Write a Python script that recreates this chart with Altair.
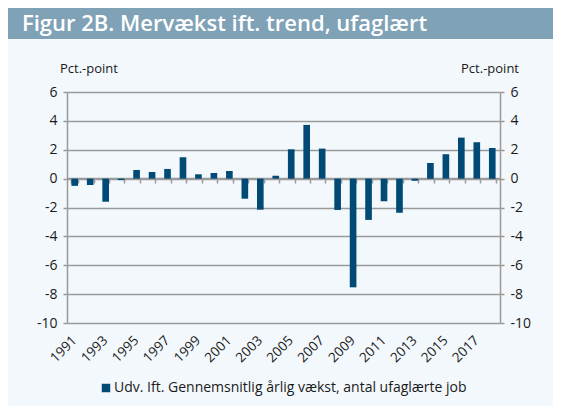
import altair as alt
import pandas as pd

years = list(range(1991, 2019))
values = [-0.5, -0.44, -1.6, -0.1, 0.6, 0.46, 0.67, 1.48, 0.3, 0.39, 0.53, -1.39,
          -2.15, 0.2, 2.03, 3.72, 2.08, -2.17, -7.53, -2.86, -1.57, -2.36, -0.14,
          1.08, 1.69, 2.84, 2.52, 2.12]
label_years = list(range(1991, 2019, 2))
y_ticks = list(range(-10, 7, 2))
series_name = "Udv. Ift. Gennemsnitlig årlig vækst, antal ufaglærte job"
title_text = "Figur 2B. Mervækst ift. trend, ufaglært"
unit_text = "Pct.-point"

df = pd.DataFrame({"year": years, "value": values, "serie": series_name})

FONT = "Open Sans"
GRID = "#9a9a9a"
BAR = "#004a75"
TXT = "#1a1a1a"

xscale = alt.Scale(paddingInner=0.57, paddingOuter=0.285)
yscale = alt.Scale(domain=[-10, 6], nice=False, zero=False)

bars = alt.Chart(df).mark_bar(color=BAR).encode(
    x=alt.X("year:O", scale=xscale,
            axis=alt.Axis(orient="bottom", offset=-145, labels=False, ticks=True,
                          tickBand="extent", tickSize=5, tickWidth=1.5, tickColor=GRID,
                          domain=True, domainColor=GRID, domainWidth=1.5,
                          grid=False, title=None)),
    y=alt.Y("value:Q", scale=yscale,
            axis=alt.Axis(orient="left", values=y_ticks, grid=True, gridColor=GRID,
                          gridWidth=1.5, tickSize=4, tickColor=GRID, tickWidth=1.5,
                          domainColor=GRID, domainWidth=1.5, labelFontSize=14,
                          labelExpr="datum.value + ''",
                          labelColor=TXT, labelPadding=6, title=None)),
    color=alt.Color("serie:N", scale=alt.Scale(range=[BAR]),
                    legend=alt.Legend(orient="none", legendX=32, legendY=289,
                                      title=None, symbolType="square",
                                      symbolSize=72, symbolStrokeWidth=0,
                                      labelFontSize=14, labelColor=TXT, labelFont=FONT,
                                      labelLimit=500, labelOffset=1, padding=0)),
)

ghost = alt.Chart(df).mark_bar(opacity=0).encode(
    x=alt.X("year:O", scale=xscale,
            axis=alt.Axis(orient="bottom", values=label_years, labelAngle=-45,
                          labelAlign="right", labelBaseline="middle", labelPadding=15,
                          labelFontSize=13.5, labelColor=TXT, ticks=False, domain=False,
                          grid=False, title=None)),
    y=alt.Y("value:Q", scale=yscale,
            axis=alt.Axis(orient="right", values=y_ticks, grid=False, tickSize=4,
                          tickColor=GRID, tickWidth=1.5, domainColor=GRID, domainWidth=1.5,
                          labelExpr="datum.value + ''",
                          labelFontSize=14, labelColor=TXT, labelPadding=6, title=None)),
)

band = alt.Chart(pd.DataFrame({"t": [title_text]})).mark_rect(color="#7fa2b7").encode(
    x=alt.value(-59), x2=alt.value(486), y=alt.value(-84), y2=alt.value(-53))

title = alt.Chart(pd.DataFrame({"t": [title_text]})).mark_text(
    font=FONT, fontSize=22, fontWeight=600, color="white", align="left", baseline="alphabetic"
).encode(text="t:N", x=alt.value(-45), y=alt.value(-61))

unit_left = alt.Chart(pd.DataFrame({"t": [unit_text]})).mark_text(
    font=FONT, fontSize=13, color=TXT, align="left", baseline="alphabetic"
).encode(text="t:N", x=alt.value(-7), y=alt.value(-19))

unit_right = alt.Chart(pd.DataFrame({"t": [unit_text]})).mark_text(
    font=FONT, fontSize=13, color=TXT, align="right", baseline="alphabetic"
).encode(text="t:N", x=alt.value(452), y=alt.value(-19))

chart = alt.layer(bars, ghost, band, title, unit_left, unit_right).resolve_axis(
    x="independent", y="independent"
).properties(
    width=433, height=231,
    autosize=alt.AutoSizeParams(type="none"),
    padding={"left": 59, "top": 84, "right": 53, "bottom": 83},
    background="#f3f8fc",
).configure_axis(labelFont=FONT).configure_view(stroke=None)

chart.save("out.html", embed_options={"renderer": "svg", "actions": False})
